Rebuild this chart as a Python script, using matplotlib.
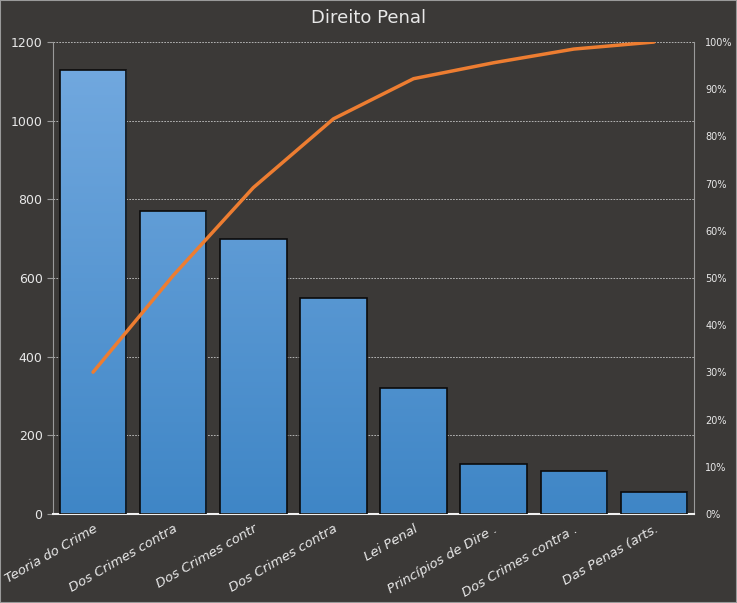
import numpy as np
import matplotlib
matplotlib.use("Agg")
import matplotlib.pyplot as plt
from matplotlib.colors import LinearSegmentedColormap

# data
categories = ["Teoria do Crime", "Dos Crimes contra", "Dos Crimes contr",
              "Dos Crimes contra", "Lei Penal", "Princípios de Dire .",
              "Dos Crimes contra .", "Das Penas (arts."]
counts = [1130, 770, 700, 548, 320, 127, 109, 56]
left_ticks = [0, 200, 400, 600, 800, 1000, 1200]
right_ticks = [0, 10, 20, 30, 40, 50, 60, 70, 80, 90, 100]

bg = "#3b3937"
txt = "#e8e8e8"

fig = plt.figure(figsize=(7.37, 6.03), dpi=100, facecolor=bg)
fig.patches.append(plt.Rectangle((0, 0), 1, 1, transform=fig.transFigure,
                                 fill=False, edgecolor="#9a9a9a", lw=1.5))
ax = fig.add_axes([0.0719, 0.1476, 0.8698, 0.7827], facecolor=bg)

x = np.arange(len(counts))
cmap = LinearSegmentedColormap.from_list("blu", ["#3f86c6", "#74aae0"])
grad = np.linspace(0, 1, 256).reshape(-1, 1)
bars = ax.bar(x, counts, width=0.83, color="none", edgecolor="#0b0b0b",
              lw=1.2, zorder=3)
for b in bars:
    x0, y0 = b.get_x(), b.get_y()
    im = ax.imshow(grad, cmap=cmap, origin="lower", aspect="auto",
                   extent=[x0, x0 + b.get_width(), 0, 1200], zorder=2)
    im.set_clip_path(b)

ax.set_xlim(-0.5, len(counts) - 0.5)
ax.set_ylim(0, 1200)
ax.set_yticks(left_ticks)
ax.yaxis.grid(True, color="#c8c8c8", ls=(0, (2, 1.5)), lw=0.6)
ax.set_axisbelow(True)
for s in ["top"]:
    ax.spines[s].set_visible(False)
ax.spines["left"].set_color("#9a9a9a")
ax.spines["right"].set_color("#9a9a9a")
ax.spines["bottom"].set_color("#f0f0f0")
ax.spines["bottom"].set_linewidth(1.5)
ax.tick_params(axis="y", colors="#9a9a9a", labelcolor=txt, labelsize=9,
               length=4)
ax.tick_params(axis="x", length=0, labelcolor=txt, pad=6)
ax.set_xticks(x)
ax.set_xticklabels(categories, rotation=30, ha="right", rotation_mode="anchor",
                   style="italic", fontsize=9.5)

cum = np.cumsum(counts) / np.sum(counts) * 100
ax2 = ax.twinx()
ax2.plot(x, cum, color="#ed7d31", lw=2.5, zorder=5,
         solid_capstyle="round")
ax2.set_ylim(0, 100)
ax2.set_yticks(right_ticks)
ax2.set_yticklabels([f"{t}%" for t in right_ticks])
ax2.tick_params(axis="y", length=0, labelcolor=txt, labelsize=7, pad=8)
for s in ax2.spines.values():
    s.set_visible(False)

fig.text(0.5, 0.97, "Direito Penal", ha="center", va="center",
         color=txt, fontsize=13)

fig.savefig("out.png", dpi=100, facecolor=bg)
